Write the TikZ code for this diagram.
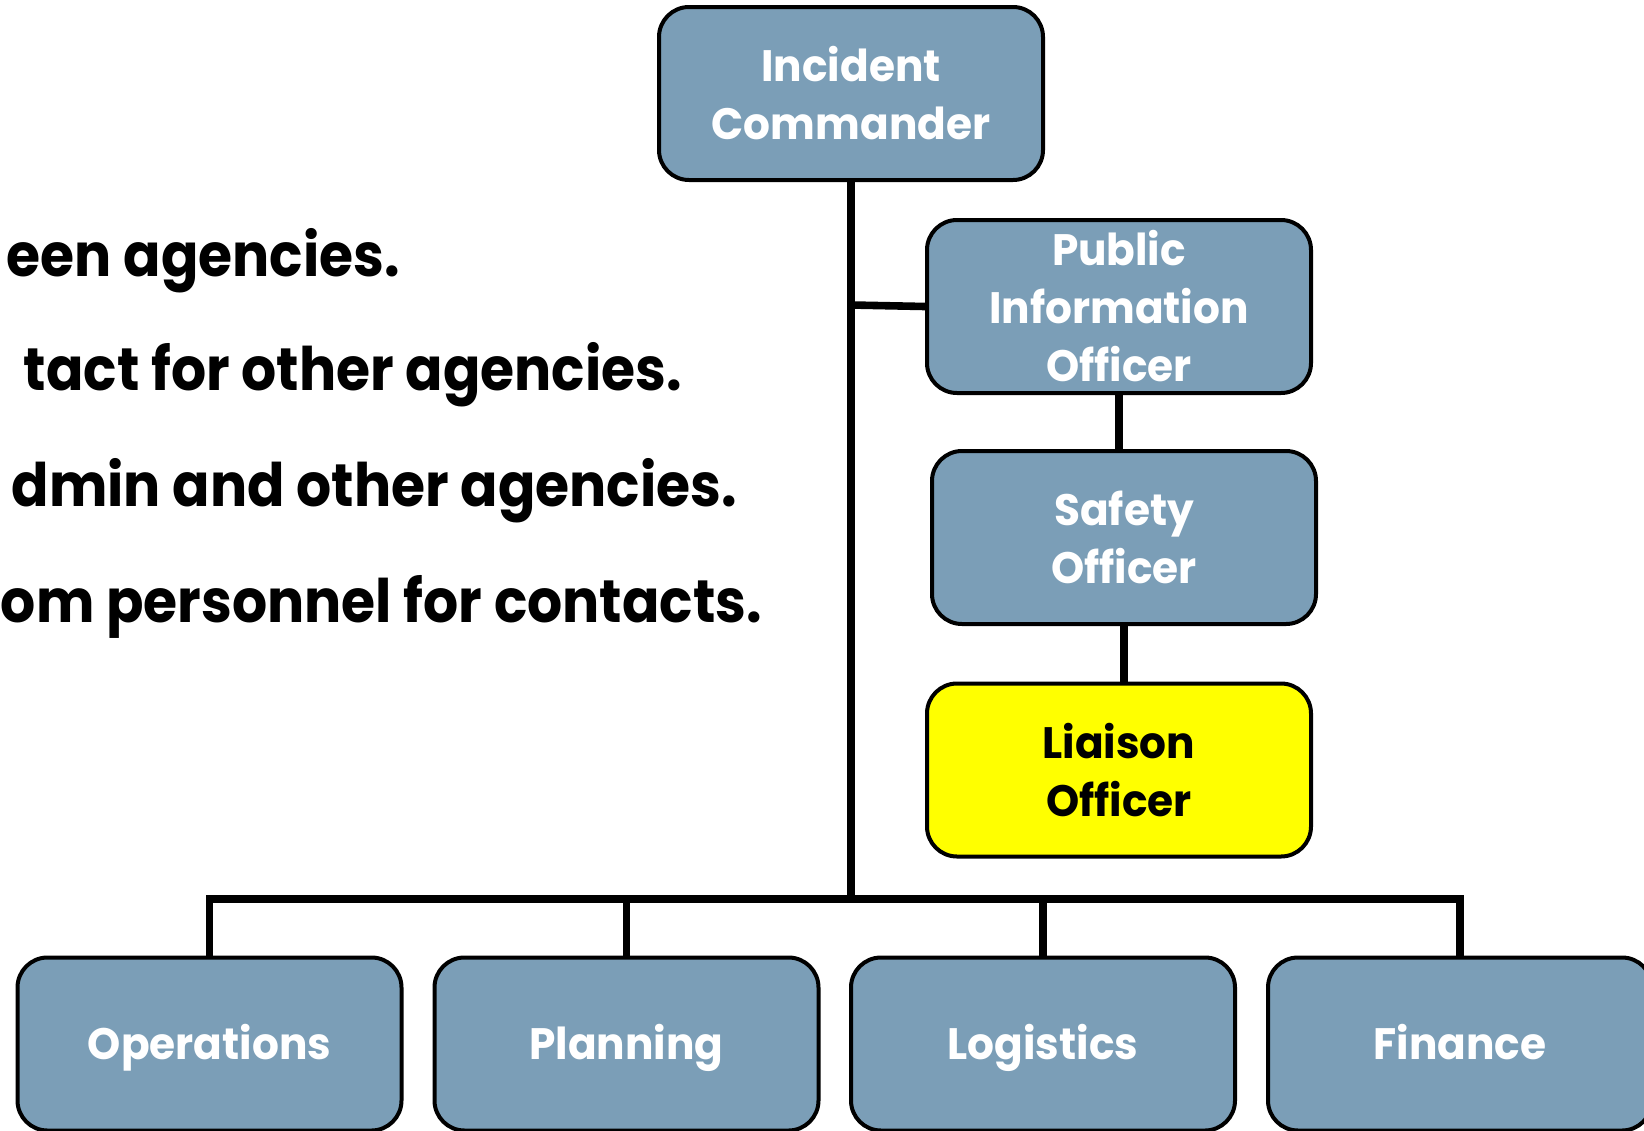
\documentclass[tikz,border=0pt]{standalone}
\usepackage{fontspec}
\setmainfont{Poppins}[FakeStretch=0.96]
\newfontfamily\notefont{Poppins}[FakeStretch=0.92]
\usepackage{tikz}
\usetikzlibrary{calc}
\definecolor{icsblue}{RGB}{123,158,183}
\definecolor{lnoyellow}{RGB}{255,255,0}
\tikzset{
  ics box/.style={draw=black, line width=2pt, rounded corners=15pt, fill=icsblue,
    minimum width=192pt, minimum height=86.5pt, inner sep=0pt, align=center,
    text=white, font=\bfseries\fontsize{22}{29}\selectfont},
  liaison box/.style={ics box, fill=lnoyellow, text=black},
  section box/.style={ics box, text height=15.5pt, text depth=0pt},
  staff line/.style={line width=3.8pt},
  note line/.style={anchor=base east, font=\notefont\bfseries\fontsize{30}{36}\selectfont},
}

\begin{document}
\begin{tikzpicture}[x=0.5pt,y=-0.5pt]
\useasboundingbox (0,0) rectangle (1644,1130);
\clip (0,0) rectangle (1644,1130);

%%%%%%%%%%%%%%%%%%%%%%%%%%%%%%%%%%%%%%%%%%%%%%%%%%%%%%%%%%%%%% command
\node[ics box] (ic) at (851,93.5) {Incident\\Commander};

%%%%%%%%%%%%%%%%%%%%%%%%%%%%%%%%%%%%%%%%%%%%%%%%%%%%%%%%%%%%%% staff
\node[ics box] (pio) at (1119,306.5) {Public\\Information\\Officer};
\node[ics box] (saf) at (1124,537.5) {Safety\\Officer};
\node[liaison box] (lno) at (1119,770) {Liaison\\Officer};

%%%%%%%%%%%%%%%%%%%%%%%%%%%%%%%%%%%%%%%%%%%%%%%%%%%%%%%%%%%%%% sections
\node[section box] (ops) at (209.5,1044) {Operations};
\node[section box] (plan) at (626.5,1044) {Planning};
\node[section box] (log) at (1043,1044) {Logistics};
\node[section box] (fin) at (1460,1044) {Finance};

%%%%%%%%%%%%%%%%%%%%%%%%%%%%%%%%%%%%%%%%%%%%%%%%%%%%%%%%%%%%%% lines
\coordinate (bus) at (851,899);
\coordinate (tap) at (851,305);

\draw[staff line] (ic) -- (bus);
\draw[staff line] (tap) -- (pio.west);
\draw[staff line] (pio.south) -- (pio.south |- saf.north);
\draw[staff line] (saf.south) -- (saf.south |- lno.north);

\draw[staff line] (ops.north) |- (bus) -| (fin.north);
\draw[staff line] (plan.north) -- (plan.north |- bus);
\draw[staff line] (log.north) -- (log.north |- bus);

%%%%%%%%%%%%%%%%%%%%%%%%%%%%%%%%%%%%%%%%%%%%%%%%%%%%%%%%%%%%%% notes
\node[note line] (n1) at (407,276) {een agencies.};
\node[note line] (n2) at (689,390) {tact for other agencies.};
\node[note line] (n3) at (744,506) {dmin and other agencies.};
\node[note line] (n4) at (769,622) {om personnel for contacts.};

\end{tikzpicture}
\end{document}
